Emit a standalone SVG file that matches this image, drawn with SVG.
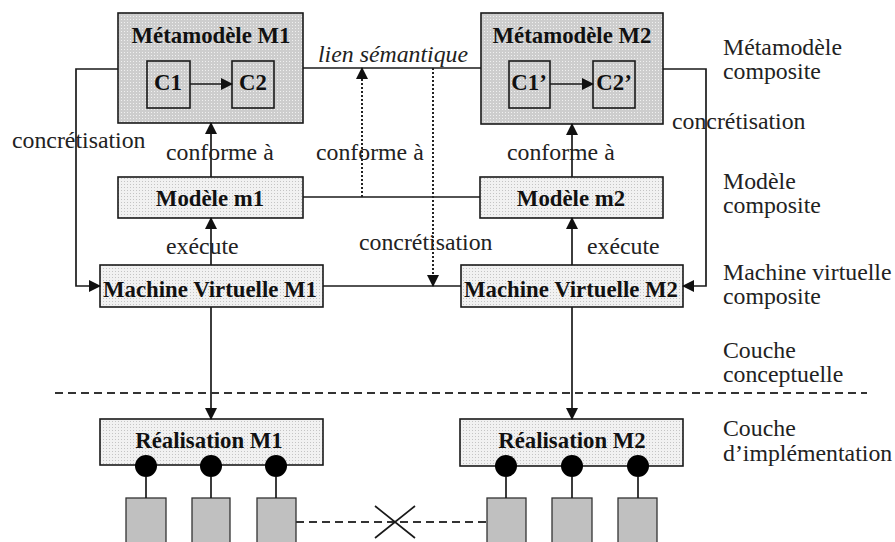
<svg xmlns="http://www.w3.org/2000/svg" width="895" height="542" viewBox="0 0 895 542">
<defs>
<pattern id="pd" width="3" height="3" patternUnits="userSpaceOnUse"><rect width="3" height="3" fill="#cdcdcd"/><rect x="1" y="1" width="1" height="1" fill="#f0f0f0"/></pattern>
<pattern id="pl" width="3" height="3" patternUnits="userSpaceOnUse"><rect width="3" height="3" fill="#f1f1f1"/><rect x="1" y="1" width="1" height="1" fill="#c4c4c4"/></pattern>
<marker id="ah" markerWidth="12" markerHeight="12" refX="11" refY="6" orient="auto" markerUnits="userSpaceOnUse"><path d="M0,0 L12,6 L0,12 Z" fill="#111"/></marker>
</defs>
<style>
.dk{fill:url(#pd);stroke:#1a1a1a;stroke-width:1.6}
.lt{fill:url(#pl);stroke:#1a1a1a;stroke-width:1.6}
.gr{fill:#c0c0c0;stroke:#333;stroke-width:1.3}
.bt{font-family:"Liberation Serif","Times New Roman",serif;font-weight:bold;font-size:22.8px;fill:#111;text-anchor:middle}
.rt{font-family:"Liberation Serif","Times New Roman",serif;font-size:23.8px;fill:#222}
.it{font-style:italic}
.ln{fill:none;stroke:#1a1a1a;stroke-width:1.7}
.dt{fill:none;stroke:#222;stroke-width:2;stroke-dasharray:2,2}
.ds{fill:none;stroke:#333;stroke-width:1.8;stroke-dasharray:8,5}
</style>
<g id="metamodele-m1">
<rect class="dk" x="118" y="13" width="185" height="110"/>
<text class="bt" x="211" y="43">Métamodèle M1</text>
</g>
<g id="c1"><rect class="dk" x="147" y="61" width="43" height="47"/><text class="bt" x="168" y="90">C1</text></g>
<g id="c2"><rect class="dk" x="232" y="61" width="42" height="47"/><text class="bt" x="253" y="90">C2</text></g>
<g id="metamodele-m2">
<rect class="dk" x="481" y="13" width="182" height="111"/>
<text class="bt" x="572" y="43">Métamodèle M2</text>
</g>
<g id="c1p"><rect class="dk" x="509" y="61" width="41" height="47"/><text class="bt" x="529" y="90">C1’</text></g>
<g id="c2p"><rect class="dk" x="593" y="61" width="42" height="47"/><text class="bt" x="614" y="90">C2’</text></g>
<g id="modele-m1"><rect class="lt" x="118" y="177" width="185" height="41"/><text class="bt" x="210" y="206">Modèle m1</text></g>
<g id="modele-m2"><rect class="lt" x="480" y="177" width="183" height="41"/><text class="bt" x="571" y="206">Modèle m2</text></g>
<g id="mv-m1"><rect class="lt" x="100" y="265" width="223" height="42"/><text class="bt" x="210" y="297">Machine Virtuelle M1</text></g>
<g id="mv-m2"><rect class="lt" x="461" y="265" width="222" height="42"/><text class="bt" x="571" y="297">Machine Virtuelle M2</text></g>
<g id="realisation-m1">
<rect class="lt" x="100" y="419" width="223" height="46"/>
<text class="bt" x="209" y="448">Réalisation M1</text>
<circle cx="146" cy="466" r="11" fill="#000"/><circle cx="211" cy="466" r="11" fill="#000"/><circle cx="276" cy="466" r="11" fill="#000"/>
</g>
<g id="realisation-m2">
<rect class="lt" x="460" y="419" width="223" height="47"/>
<text class="bt" x="572" y="448">Réalisation M2</text>
<circle cx="506" cy="466" r="11" fill="#000"/><circle cx="572" cy="466" r="11" fill="#000"/><circle cx="638" cy="466" r="11" fill="#000"/>
</g>
<g id="components">
<rect class="gr" x="126" y="498" width="40" height="50"/>
<rect class="gr" x="192" y="498" width="38" height="50"/>
<rect class="gr" x="257" y="498" width="39" height="50"/>
<rect class="gr" x="487" y="498" width="39" height="50"/>
<rect class="gr" x="552" y="498" width="40" height="50"/>
<rect class="gr" x="618" y="498" width="39" height="50"/>
</g>
<g id="connectors">
<path class="ln" d="M303,68 H481"/>
<path class="ln" d="M303,197 H480"/>
<path class="ln" d="M323,286 H461"/>
<path class="ln" d="M118,69 H76 V286 H100" marker-end="url(#ah)"/>
<path class="ln" d="M663,69 H706 V286 H683" marker-end="url(#ah)"/>
<path class="ln" d="M211,177 V123" marker-end="url(#ah)"/>
<path class="ln" d="M211,265 V218" marker-end="url(#ah)"/>
<path class="ln" d="M572,177 V124" marker-end="url(#ah)"/>
<path class="ln" d="M572,265 V218" marker-end="url(#ah)"/>
<path class="ln" d="M211,307 V419" marker-end="url(#ah)"/>
<path class="ln" d="M572,307 V419" marker-end="url(#ah)"/>
<path class="ln" d="M190,84 H232" marker-end="url(#ah)"/>
<path class="ln" d="M550,84 H593" marker-end="url(#ah)"/>
<path class="dt" d="M362,197 V68" marker-end="url(#ah)"/>
<path class="dt" d="M433,68 V286" marker-end="url(#ah)"/>
<path class="ds" d="M55,393 H867"/>
<path class="ds" d="M296,522 H487"/>
<path class="ln" d="M375,506 L415,538 M375,538 L415,506"/>
<path class="ln" d="M146,477 V498 M211,477 V498 M276,477 V498 M506,477 V498 M572,477 V498 M638,477 V498"/>
</g>
<g id="labels">
<text class="rt it" x="318" y="62">lien sémantique</text>
<text class="rt" x="12" y="148">concrétisation</text>
<text class="rt" x="166" y="160">conforme à</text>
<text class="rt" x="316" y="160">conforme à</text>
<text class="rt" x="507" y="160">conforme à</text>
<text class="rt" x="166" y="254">exécute</text>
<text class="rt" x="587" y="254">exécute</text>
<text class="rt" x="359" y="250">concrétisation</text>
<text class="rt" x="672" y="129">concrétisation</text>
<text class="rt" x="723" y="55">Métamodèle</text>
<text class="rt" x="723" y="79">composite</text>
<text class="rt" x="723" y="189">Modèle</text>
<text class="rt" x="723" y="213">composite</text>
<text class="rt" x="723" y="280">Machine virtuelle</text>
<text class="rt" x="723" y="304">composite</text>
<text class="rt" x="723" y="358">Couche</text>
<text class="rt" x="723" y="382">conceptuelle</text>
<text class="rt" x="723" y="436">Couche</text>
<text class="rt" x="723" y="461">d’implémentation</text>
</g>
</svg>
